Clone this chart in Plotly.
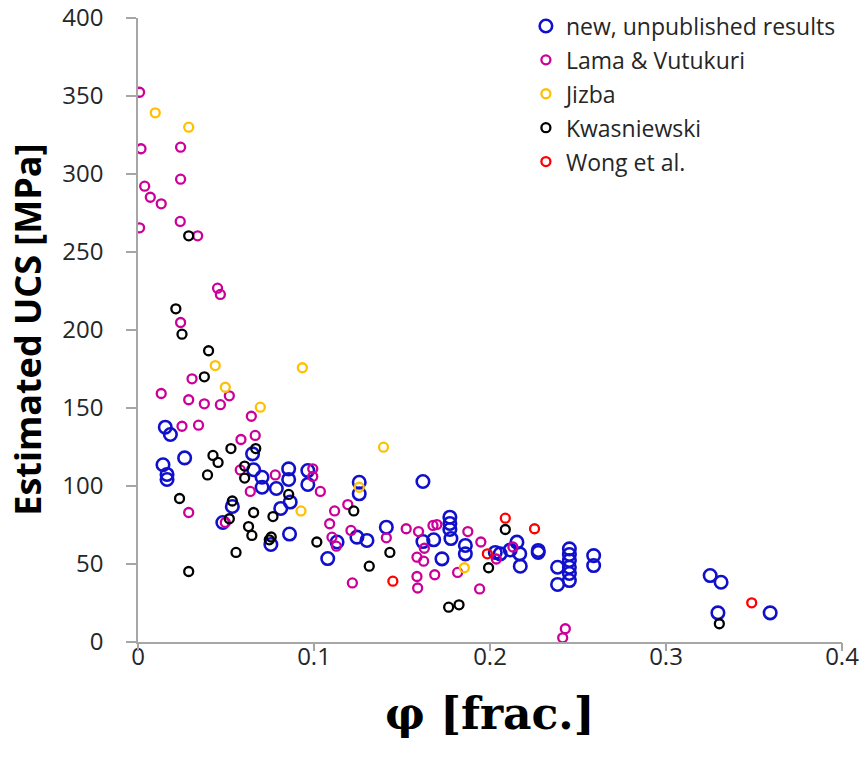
import plotly.graph_objects as go

# Porosity (fraction) and estimated UCS (MPa) for each data source
new_phi = [0.0155, 0.0184, 0.0142, 0.0165, 0.0165, 0.0265, 0.0651, 0.0657, 0.0705, 0.0705,
           0.0786, 0.0856, 0.0856, 0.0965, 0.0965, 0.0865, 0.0811, 0.0536, 0.0482, 0.0861,
           0.0755, 0.1078, 0.1131, 0.1244, 0.1257, 0.1257, 0.1301, 0.1411, 0.1619, 0.1619,
           0.1680, 0.1727, 0.1772, 0.1772, 0.1772, 0.1778, 0.1860, 0.1860, 0.2030, 0.2058,
           0.2115, 0.2153, 0.2169, 0.2172, 0.2274, 0.2274, 0.2384, 0.2384, 0.2451, 0.2451,
           0.2451, 0.2451, 0.2451, 0.2451, 0.2589, 0.2589, 0.3251, 0.3313, 0.3295, 0.3592]
new_ucs = [137.7, 133.0, 113.6, 107.4, 104.2, 118.0, 120.6, 110.4, 105.6, 99.2,
           98.4, 111.0, 104.2, 109.9, 101.0, 89.7, 85.6, 86.9, 76.6, 69.2,
           62.5, 53.5, 64.1, 67.2, 102.4, 95.0, 65.1, 73.6, 102.9, 64.4,
           65.5, 53.3, 80.0, 76.0, 72.1, 66.3, 61.9, 56.5, 57.4, 56.5,
           59.0, 64.0, 56.5, 48.6, 58.7, 57.4, 47.9, 36.9, 59.7, 56.1,
           52.2, 47.9, 43.9, 39.4, 55.4, 49.0, 42.6, 38.3, 18.7, 18.7]

lama_phi = [0.0009, 0.0017, 0.0242, 0.0242, 0.0038, 0.0070, 0.0132, 0.0240, 0.0009, 0.0339,
            0.0452, 0.0468, 0.0242, 0.0307, 0.0132, 0.0519, 0.0288, 0.0377, 0.0468, 0.0644,
            0.0250, 0.0344, 0.0585, 0.0666, 0.0581, 0.0780, 0.0993, 0.0993, 0.1036, 0.0638,
            0.0288, 0.0496, 0.1192, 0.1117, 0.1089, 0.1210, 0.1102, 0.1127, 0.1411, 0.1524,
            0.1594, 0.1676, 0.1698, 0.1874, 0.1948, 0.1627, 0.1585, 0.1623, 0.2036, 0.2130,
            0.1218, 0.1585, 0.1589, 0.1686, 0.1816, 0.1941, 0.2428, 0.2413]
lama_ucs = [352.4, 316.2, 317.2, 296.7, 292.2, 285.1, 280.9, 269.6, 265.5, 260.4,
            226.8, 222.8, 204.8, 168.7, 159.3, 157.8, 155.3, 152.7, 152.1, 144.7,
            138.3, 139.0, 129.8, 132.4, 110.3, 107.1, 111.0, 106.1, 96.5, 96.5,
            83.0, 76.6, 88.1, 84.0, 75.8, 71.5, 67.2, 61.4, 66.8, 72.6,
            70.8, 74.7, 75.3, 70.8, 64.1, 60.1, 54.4, 51.8, 53.2, 60.9,
            37.9, 42.0, 34.6, 43.1, 44.6, 34.0, 8.5, 2.7]

jizba_phi = [0.0098, 0.0288, 0.0439, 0.0934, 0.0496, 0.0695, 0.0926, 0.1257, 0.1395, 0.1854]
jizba_ucs = [339.2, 330.0, 177.2, 175.8, 163.3, 150.5, 84.0, 99.2, 124.9, 47.6]

kwas_phi = [0.0288, 0.0215, 0.0250, 0.0401, 0.0377, 0.0528, 0.0669, 0.0426, 0.0455, 0.0395,
            0.0606, 0.0606, 0.0236, 0.0856, 0.0536, 0.0657, 0.0767, 0.0519, 0.0628, 0.0647,
            0.0746, 0.0757, 0.1016, 0.0557, 0.0288, 0.1226, 0.1431, 0.1314, 0.1765, 0.1824,
            0.2087, 0.1992, 0.3303]
kwas_ucs = [260.4, 213.6, 197.3, 186.7, 170.0, 124.0, 124.0, 119.6, 115.1, 107.1,
            112.8, 105.1, 92.0, 94.6, 90.4, 83.0, 80.4, 79.0, 74.0, 68.3,
            65.5, 67.3, 64.1, 57.4, 45.2, 84.0, 57.4, 48.6, 22.3, 23.8,
            72.1, 47.6, 11.7]

wong_phi = [0.1448, 0.2087, 0.2253, 0.1985, 0.3487]
wong_ucs = [39.0, 79.4, 72.6, 56.5, 25.1]

x_ticks = [0, 0.1, 0.2, 0.3, 0.4]
x_tick_labels = ["0", "0.1", "0.2", "0.3", "0.4"]

series = [
    ("new, unpublished results", new_phi, new_ucs, "#1010CC", 12.5, 2.6),
    ("Lama & Vutukuri", lama_phi, lama_ucs, "#CC0099", 9, 2.3),
    ("Jizba", jizba_phi, jizba_ucs, "#FFC000", 9, 2.3),
    ("Kwasniewski", kwas_phi, kwas_ucs, "#000000", 9, 2.3),
    ("Wong et al.", wong_phi, wong_ucs, "#FF0000", 9, 2.3),
]

fig = go.Figure()
for i, (name, xs, ys, color, size, lw) in enumerate(series):
    fig.add_trace(go.Scatter(
        x=xs, y=ys, mode="markers", name=name, legendgroup=f"g{i}",
        marker=dict(symbol="circle-open", size=size, color=color,
                    line=dict(width=lw, color=color)),
    ))

# empty trace that makes the tick-mark-only overlay axis render
fig.add_trace(go.Scatter(x=[], y=[], xaxis="x2", showlegend=False, hoverinfo="skip"))

axis_color = "#A6A6A6"
tick_font = dict(family="Open Sans", size=24, color="#262626")

fig.update_layout(
    width=867, height=766,
    margin=dict(l=138, r=25, t=18, b=124, autoexpand=False),
    paper_bgcolor="white", plot_bgcolor="white",
    showlegend=True,
    legend=dict(
        x=0.551, y=1.0216, xanchor="left", yanchor="top",
        font=dict(family="Open Sans", size=23, color="#262626"),
        bgcolor="rgba(0,0,0,0)", tracegroupgap=1, itemwidth=30,
    ),
    # labelled x axis, labels pulled in close to the axis line
    xaxis=dict(
        range=[0, 0.4], tickvals=x_ticks, ticktext=x_tick_labels,
        showgrid=False, zeroline=False, automargin=False,
        showline=True, linecolor=axis_color, linewidth=1.5,
        ticks="", tickfont=tick_font, ticklabelstandoff=-8,
    ),
    # overlay axis that only draws the outward tick marks
    xaxis2=dict(
        overlaying="x", matches="x", anchor="y", side="bottom",
        tickvals=x_ticks, showticklabels=False, automargin=False,
        showgrid=False, zeroline=False, showline=False,
        ticks="outside", ticklen=8, tickcolor=axis_color, tickwidth=1.5,
    ),
    yaxis=dict(
        range=[0, 400], dtick=50,
        showgrid=False, zeroline=False, automargin=False,
        showline=True, linecolor=axis_color, linewidth=1.5,
        ticks="outside", ticklen=10, tickcolor=axis_color, tickwidth=1.5,
        tickfont=tick_font, ticklabelstandoff=18,
    ),
    annotations=[
        dict(text="<b>Estimated UCS [MPa]</b>", textangle=-90,
             xref="paper", yref="paper", x=-0.158, y=0.5,
             xanchor="center", yanchor="middle", showarrow=False,
             font=dict(family="Open Sans", size=36, color="#000000")),
        dict(text="<b>φ [frac.]</b>",
             xref="paper", yref="paper", x=0.5, y=-0.115,
             xanchor="center", yanchor="middle", showarrow=False,
             font=dict(family="DejaVu Serif", size=44, color="#000000")),
    ],
)

fig.write_html("out.html")
